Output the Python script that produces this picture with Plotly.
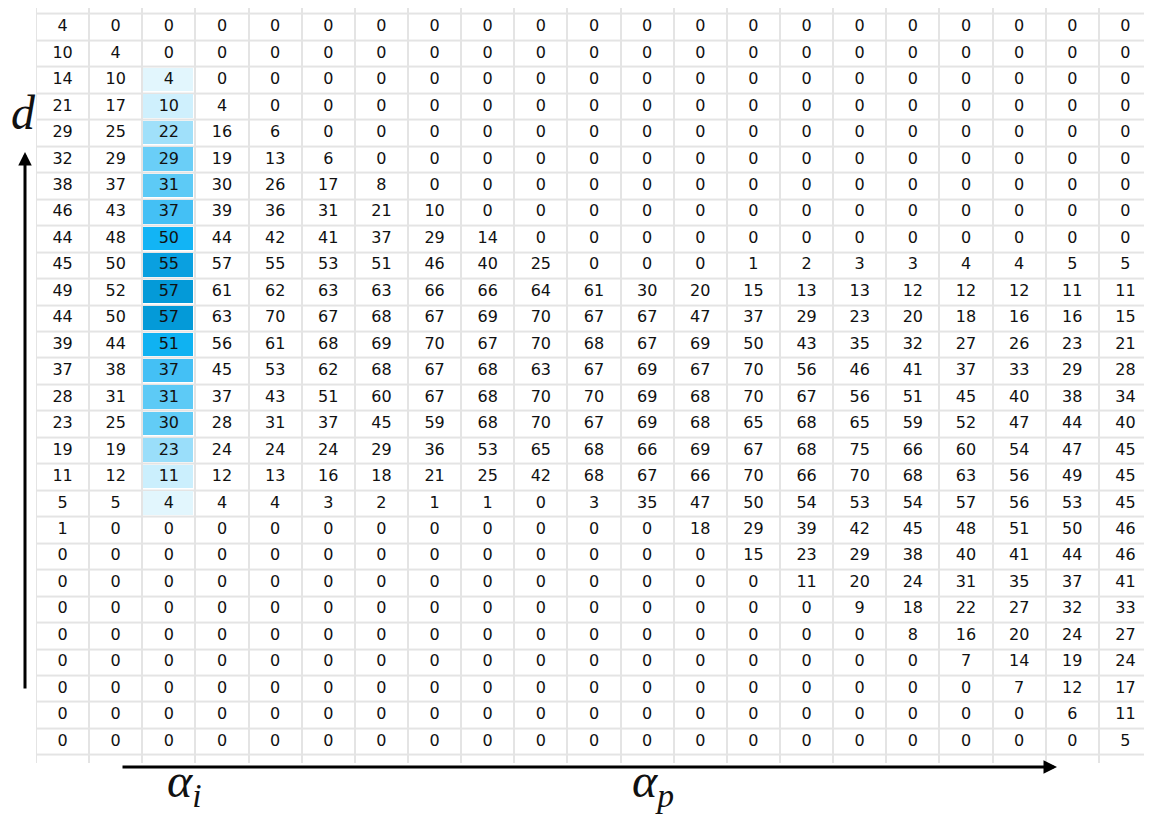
import plotly.graph_objects as go

# ---- data (rows top to bottom, 21 columns each) ----
r01 = [4, 0, 0, 0, 0, 0, 0, 0, 0, 0, 0, 0, 0, 0, 0, 0, 0, 0, 0, 0, 0]
r02 = [10, 4, 0, 0, 0, 0, 0, 0, 0, 0, 0, 0, 0, 0, 0, 0, 0, 0, 0, 0, 0]
r03 = [14, 10, 4, 0, 0, 0, 0, 0, 0, 0, 0, 0, 0, 0, 0, 0, 0, 0, 0, 0, 0]
r04 = [21, 17, 10, 4, 0, 0, 0, 0, 0, 0, 0, 0, 0, 0, 0, 0, 0, 0, 0, 0, 0]
r05 = [29, 25, 22, 16, 6, 0, 0, 0, 0, 0, 0, 0, 0, 0, 0, 0, 0, 0, 0, 0, 0]
r06 = [32, 29, 29, 19, 13, 6, 0, 0, 0, 0, 0, 0, 0, 0, 0, 0, 0, 0, 0, 0, 0]
r07 = [38, 37, 31, 30, 26, 17, 8, 0, 0, 0, 0, 0, 0, 0, 0, 0, 0, 0, 0, 0, 0]
r08 = [46, 43, 37, 39, 36, 31, 21, 10, 0, 0, 0, 0, 0, 0, 0, 0, 0, 0, 0, 0, 0]
r09 = [44, 48, 50, 44, 42, 41, 37, 29, 14, 0, 0, 0, 0, 0, 0, 0, 0, 0, 0, 0, 0]
r10 = [45, 50, 55, 57, 55, 53, 51, 46, 40, 25, 0, 0, 0, 1, 2, 3, 3, 4, 4, 5, 5]
r11 = [49, 52, 57, 61, 62, 63, 63, 66, 66, 64, 61, 30, 20, 15, 13, 13, 12, 12, 12, 11, 11]
r12 = [44, 50, 57, 63, 70, 67, 68, 67, 69, 70, 67, 67, 47, 37, 29, 23, 20, 18, 16, 16, 15]
r13 = [39, 44, 51, 56, 61, 68, 69, 70, 67, 70, 68, 67, 69, 50, 43, 35, 32, 27, 26, 23, 21]
r14 = [37, 38, 37, 45, 53, 62, 68, 67, 68, 63, 67, 69, 67, 70, 56, 46, 41, 37, 33, 29, 28]
r15 = [28, 31, 31, 37, 43, 51, 60, 67, 68, 70, 70, 69, 68, 70, 67, 56, 51, 45, 40, 38, 34]
r16 = [23, 25, 30, 28, 31, 37, 45, 59, 68, 70, 67, 69, 68, 65, 68, 65, 59, 52, 47, 44, 40]
r17 = [19, 19, 23, 24, 24, 24, 29, 36, 53, 65, 68, 66, 69, 67, 68, 75, 66, 60, 54, 47, 45]
r18 = [11, 12, 11, 12, 13, 16, 18, 21, 25, 42, 68, 67, 66, 70, 66, 70, 68, 63, 56, 49, 45]
r19 = [5, 5, 4, 4, 4, 3, 2, 1, 1, 0, 3, 35, 47, 50, 54, 53, 54, 57, 56, 53, 45]
r20 = [1, 0, 0, 0, 0, 0, 0, 0, 0, 0, 0, 0, 18, 29, 39, 42, 45, 48, 51, 50, 46]
r21 = [0, 0, 0, 0, 0, 0, 0, 0, 0, 0, 0, 0, 0, 15, 23, 29, 38, 40, 41, 44, 46]
r22 = [0, 0, 0, 0, 0, 0, 0, 0, 0, 0, 0, 0, 0, 0, 11, 20, 24, 31, 35, 37, 41]
r23 = [0, 0, 0, 0, 0, 0, 0, 0, 0, 0, 0, 0, 0, 0, 0, 9, 18, 22, 27, 32, 33]
r24 = [0, 0, 0, 0, 0, 0, 0, 0, 0, 0, 0, 0, 0, 0, 0, 0, 8, 16, 20, 24, 27]
r25 = [0, 0, 0, 0, 0, 0, 0, 0, 0, 0, 0, 0, 0, 0, 0, 0, 0, 7, 14, 19, 24]
r26 = [0, 0, 0, 0, 0, 0, 0, 0, 0, 0, 0, 0, 0, 0, 0, 0, 0, 0, 7, 12, 17]
r27 = [0, 0, 0, 0, 0, 0, 0, 0, 0, 0, 0, 0, 0, 0, 0, 0, 0, 0, 0, 6, 11]
r28 = [0, 0, 0, 0, 0, 0, 0, 0, 0, 0, 0, 0, 0, 0, 0, 0, 0, 0, 0, 0, 5]

rows = [r01, r02, r03, r04, r05, r06, r07, r08, r09, r10, r11, r12, r13, r14,
        r15, r16, r17, r18, r19, r20, r21, r22, r23, r24, r25, r26, r27, r28]

highlight_col = 2
highlight_first_row = 2
highlight_last_row = 18

x_label_i = "<i>α<sub>i</sub></i>"
x_label_p = "<i>α<sub>p</sub></i>"
y_label = "<i>d</i>"

# ---- build figure ----
n_rows = len(rows)
n_cols = len(rows[0])
col_idx = list(range(n_cols))

base_y = list(range(-1, n_rows + 1))
base_z = [[0] * n_cols for _ in base_y]

hl_z = []
for r, row in enumerate(rows):
    hl_z.append([row[c] if (c == highlight_col and highlight_first_row <= r <= highlight_last_row) else None
                 for c in col_idx])

blue_scale = [
    [0.0, "#ffffff"],
    [0.07, "#e2f6fd"],
    [0.185, "#cdf0fd"],
    [0.395, "#9edffa"],
    [0.53, "#60cbf6"],
    [0.65, "#44c0f5"],
    [0.885, "#10b4f5"],
    [0.965, "#0aa0e0"],
    [1.0, "#049ad8"],
]

fig = go.Figure()
fig.add_trace(go.Heatmap(
    x=col_idx, y=base_y, z=base_z,
    colorscale=[[0, "#ffffff"], [1, "#ffffff"]],
    showscale=False, xgap=2, ygap=2, hoverinfo="skip",
))
fig.add_trace(go.Heatmap(
    x=col_idx, y=list(range(n_rows)), z=hl_z,
    colorscale=blue_scale, zmin=0, zmax=57,
    showscale=False, xgap=3, ygap=3, hoverinfo="skip",
))

tx, ty, tt = [], [], []
for r, row in enumerate(rows):
    for c, v in enumerate(row):
        tx.append(c)
        ty.append(r)
        tt.append(str(v))
fig.add_trace(go.Scatter(
    x=tx, y=ty, text=tt, mode="text",
    textfont=dict(family="DejaVu Sans", size=16, color="#111111"),
    hoverinfo="skip", showlegend=False,
))

# page body has an 8px margin: figure sits at screen (8, 8)
OFF = 8
W, H = 1152 - OFF, 816 - OFF
grid_left = 36            # screen x of table's left edge
plot_bottom = 763         # screen y where plot area ends
left = grid_left - OFF
plot_h = plot_bottom - OFF
bottom = H - plot_h
row_px = 26.46
first_row_top = 14        # screen y of first row's top line
y_top = -0.5 - (first_row_top - OFF) / row_px
y_bot = y_top + plot_h / row_px


def px_to_paper(sx, sy):
    return (sx - grid_left) / (W - left), (plot_bottom - sy) / plot_h


annotations = []
hx, hy = px_to_paper(25, 152)
annotations.append(dict(x=hx, y=hy, xref="paper", yref="paper", ax=0, ay=538,
                        showarrow=True, arrowhead=2, arrowsize=0.9, arrowwidth=3,
                        arrowcolor="#000000", text=""))
hx, hy = px_to_paper(1057, 767)
annotations.append(dict(x=hx, y=hy, xref="paper", yref="paper", ax=-936, ay=0,
                        showarrow=True, arrowhead=2, arrowsize=0.9, arrowwidth=3,
                        arrowcolor="#000000", text=""))
lx, ly = px_to_paper(9, 84)
annotations.append(dict(x=lx, y=ly, xref="paper", yref="paper", text=y_label, showarrow=False,
                        font=dict(family="Liberation Serif", size=48, color="#111111")))
lx, ly = px_to_paper(166, 815)
annotations.append(dict(x=lx, y=ly, xref="paper", yref="paper", text=x_label_i, showarrow=False,
                        yanchor="bottom", borderpad=0,
                        font=dict(family="Liberation Serif", size=48, color="#111111")))
lx, ly = px_to_paper(653, 815)
annotations.append(dict(x=lx, y=ly, xref="paper", yref="paper", text=x_label_p, showarrow=False,
                        yanchor="bottom", borderpad=0,
                        font=dict(family="Liberation Serif", size=48, color="#111111")))

fig.update_layout(
    width=W, height=H,
    margin=dict(l=left, r=0, t=0, b=bottom, pad=0),
    paper_bgcolor="#ffffff", plot_bgcolor="#e4e4e4",
    xaxis=dict(range=[-0.5, n_cols - 0.5], visible=False, fixedrange=True),
    yaxis=dict(range=[y_bot, y_top], visible=False, fixedrange=True),
    showlegend=False,
    annotations=annotations,
)

fig.write_html("out.html")
